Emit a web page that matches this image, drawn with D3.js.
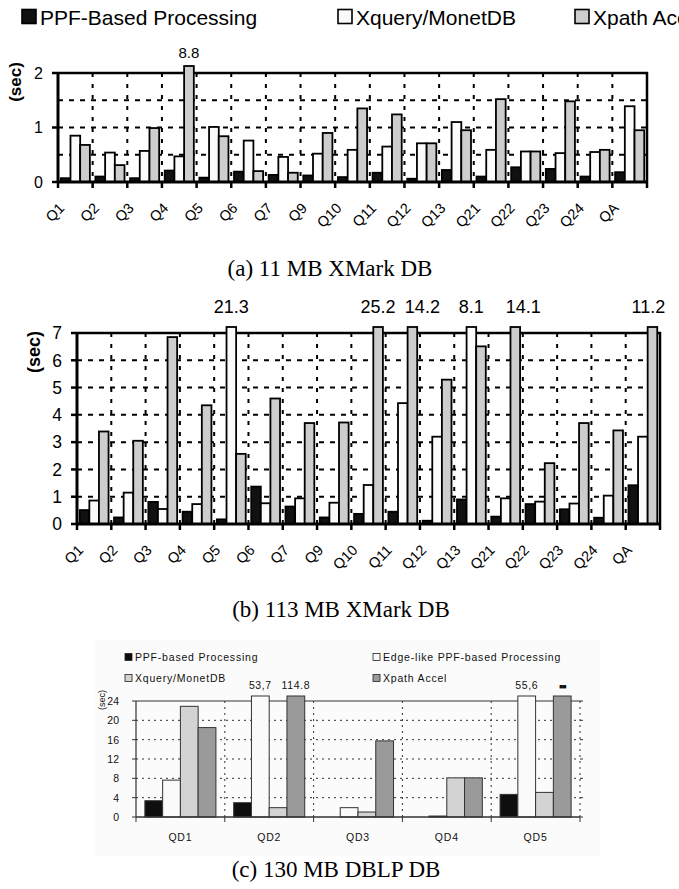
<!DOCTYPE html>
<html><head><meta charset="utf-8">
<script src="https://cdn.jsdelivr.net/npm/d3@7"></script>
<style>body{margin:0;background:#fff}</style>
</head><body>
<svg id="c" width="679" height="889" xmlns="http://www.w3.org/2000/svg"></svg>
<script>
// ---------- DATA ----------
const queriesXM = ["Q1","Q2","Q3","Q4","Q5","Q6","Q7","Q9","Q10","Q11","Q12","Q13","Q21","Q22","Q23","Q24","QA"];
const seriesXM = ["PPF-Based Processing","Xquery/MonetDB","Xpath Accel"];
// (a) 11 MB XMark DB (sec)
const a_ppf   = [0.07,0.10,0.07,0.21,0.08,0.19,0.13,0.12,0.09,0.17,0.06,0.22,0.10,0.27,0.24,0.10,0.18];
const a_monet = [0.85,0.54,0.57,0.47,1.01,0.76,0.46,0.52,0.59,0.65,0.71,1.10,0.59,0.56,0.53,0.55,1.39];
const a_xpath = [0.68,0.31,0.99,8.8,0.84,0.20,0.17,0.90,1.35,1.24,0.71,0.95,1.52,0.56,1.48,0.59,0.95];
const a_yTicks = [0,1,2];
// (b) 113 MB XMark DB (sec)
const b_ppf   = [0.51,0.24,0.81,0.45,0.17,1.37,0.64,0.24,0.37,0.45,0.12,0.90,0.27,0.73,0.54,0.23,1.42];
const b_monet = [0.86,1.15,0.55,0.73,21.3,0.76,0.94,0.78,1.43,4.43,3.20,8.1,0.94,0.82,0.75,1.04,3.20];
const b_xpath = [3.39,3.05,6.85,4.35,2.57,4.60,3.70,3.72,25.2,14.2,5.29,6.51,14.1,2.23,3.70,3.43,11.2];
const b_yTicks = [0,1,2,3,4,5,6,7];
// (c) 130 MB DBLP DB (sec)
const queriesDBLP = ["QD1","QD2","QD3","QD4","QD5"];
const seriesDBLP = ["PPF-based Processing","Edge-like PPF-based Processing","Xquery/MonetDB","Xpath Accel"];
const c_ppf   = [3.37,2.96,0,0,4.68];
const c_edge  = [7.63,53.7,1.93,0.2,55.6];
const c_monet = [22.9,1.93,1.03,8.1,5.09];
const c_xpath = [18.5,114.8,15.75,8.1,30]; // QD5 value label illegible in source
const c_overLabels = ["53,7","114.8","55,6","\u25A0\u25A0"]; // in query order
const c_yTicks = [0,4,8,12,16,20,24];
const captions = ["(a) 11 MB XMark DB","(b) 113 MB XMark DB","(c) 130 MB DBLP DB"];

// ---------- DRAW ----------
const svg = d3.select("#c");
const SANS = "'Liberation Sans', Arial, sans-serif";
const SERIF = "'Liberation Serif', 'Times New Roman', serif";
const fillsXM = ["#111111","#fbfbfb","#cdcdcd"];

// top legend
const legX = [22, 338, 575];
seriesXM.forEach((s,i)=>{
  svg.append("rect").attr("x",legX[i]).attr("y",9.5).attr("width",14).attr("height",14)
    .attr("fill",fillsXM[i]).attr("stroke","#000").attr("stroke-width",1.6);
  svg.append("text").attr("x",legX[i]+18).attr("y",24.5).attr("font-family",SANS)
    .attr("font-size",21).attr("fill","#000").text(s);
});

function xmarkChart(cfg){
  const g = svg.append("g");
  const x = d3.scaleBand().domain(queriesXM).range([cfg.x0,cfg.x1]).padding(0);
  const y = d3.scaleLinear().domain([0,cfg.yMax]).range([cfg.yBot,cfg.yTop]);
  const bw = x.bandwidth();
  const xs = d3.scaleBand().domain([0,1,2]).range([bw*0.08,bw*0.92]);
  // grid
  g.selectAll(".hg").data(d3.range(cfg.gridStep,cfg.yMax-1e-9,cfg.gridStep)).join("line")
    .attr("x1",cfg.x0).attr("x2",cfg.x1).attr("y1",d=>y(d)).attr("y2",d=>y(d))
    .attr("stroke","#000").attr("stroke-width",2).attr("stroke-dasharray","5,6");
  g.selectAll(".vg").data(queriesXM.slice(1)).join("line")
    .attr("x1",d=>x(d)).attr("x2",d=>x(d)).attr("y1",cfg.yTop).attr("y2",cfg.yBot)
    .attr("stroke","#000").attr("stroke-width",2).attr("stroke-dasharray","4,7");
  // frame top & right
  g.append("path").attr("d",`M${cfg.x0},${cfg.yTop}H${cfg.x1}V${cfg.yBot}`)
    .attr("fill","none").attr("stroke","#000").attr("stroke-width",2.5);
  // bars
  const data = [];
  cfg.series.forEach((arr,si)=>arr.forEach((v,qi)=>data.push({q:queriesXM[qi],si,v})));
  g.selectAll(".bar").data(data).join("rect")
    .attr("x",d=>x(d.q)+xs(d.si)).attr("width",xs.bandwidth())
    .attr("y",d=> d.v>cfg.yMax ? cfg.yTop-cfg.over : y(d.v))
    .attr("height",d=> (d.v>cfg.yMax ? cfg.yBot-(cfg.yTop-cfg.over) : cfg.yBot-y(d.v)))
    .attr("fill",d=>fillsXM[d.si]).attr("stroke","#000").attr("stroke-width",1.8);
  // over-range labels
  g.selectAll(".ol").data(data.filter(d=>d.v>cfg.yMax)).join("text")
    .attr("x",d=>x(d.q)+xs(d.si)+xs.bandwidth()/2+(cfg.nudge[d.q]||0)).attr("y",cfg.labelY)
    .attr("text-anchor","middle").attr("font-family",SANS).attr("font-size",cfg.lblFs)
    .text(d=>d3.format(".1f")(d.v));
  // axes lines
  g.append("line").attr("x1",cfg.x0).attr("x2",cfg.x0).attr("y1",cfg.yTop-1).attr("y2",cfg.yBot+1)
    .attr("stroke","#000").attr("stroke-width",3);
  g.append("line").attr("x1",cfg.x0-1).attr("x2",cfg.x1+1).attr("y1",cfg.yBot).attr("y2",cfg.yBot)
    .attr("stroke","#000").attr("stroke-width",3);
  // y ticks
  g.selectAll(".yt").data(cfg.yTicks).join("line")
    .attr("x1",cfg.x0-6).attr("x2",cfg.x0).attr("y1",d=>y(d)).attr("y2",d=>y(d))
    .attr("stroke","#000").attr("stroke-width",2.5);
  g.selectAll(".yl").data(cfg.yTicks).join("text")
    .attr("x",cfg.x0-15).attr("y",d=>y(d)+cfg.tickFs*0.36).attr("text-anchor","end")
    .attr("font-family",SANS).attr("font-size",cfg.tickFs).text(d=>d);
  // x ticks
  g.selectAll(".xt").data(queriesXM.concat(["end"])).join("line")
    .attr("x1",(d,i)=>cfg.x0+i*bw).attr("x2",(d,i)=>cfg.x0+i*bw)
    .attr("y1",cfg.yBot).attr("y2",cfg.yBot+6).attr("stroke","#000").attr("stroke-width",2.5);
  // x labels
  g.selectAll(".xl").data(queriesXM).join("text")
    .attr("transform",d=>`translate(${x(d)+bw/2-10},${cfg.yBot+27}) rotate(-45)`)
    .attr("text-anchor","end").attr("font-family",SANS).attr("font-size",14.5).text(d=>d);
  // y title
  g.append("text").attr("transform",`translate(${cfg.titleX},${cfg.titleY}) rotate(-90)`)
    .attr("text-anchor","middle").attr("font-family",SANS).attr("font-weight","bold")
    .attr("font-size",cfg.titleFs).text("(sec)");
  // caption
  g.append("text").attr("x",cfg.capX).attr("y",cfg.capY).attr("text-anchor","middle")
    .attr("font-family",SERIF).attr("font-size",23).text(cfg.caption);
}

xmarkChart({x0:58,x1:647,yTop:73,yBot:182,yMax:2,gridStep:0.5,yTicks:a_yTicks,tickFs:16,titleFs:17,
  series:[a_ppf,a_monet,a_xpath],over:7,labelY:58,lblFs:15,nudge:{},
  titleX:21,titleY:82,capX:330,capY:276,caption:captions[0]});
xmarkChart({x0:77,x1:660,yTop:333,yBot:524,yMax:7,gridStep:1,yTicks:b_yTicks,tickFs:17.5,titleFs:18,
  series:[b_ppf,b_monet,b_xpath],over:6,labelY:313,lblFs:18,nudge:{Q11:10,Q21:8,QA:-4},
  titleX:40,titleY:352,capX:341,capY:617,caption:captions[1]});

// (c)
(function(){
  const x0=136,x1=580,yTop=701,yBot=817,yMax=24;
  const g = svg.append("g");
  const fills = ["#0e0e0e","#fafafa","#d3d3d3","#9a9a9a"];
  g.append("rect").attr("x",94).attr("y",640).attr("width",506).attr("height",216).attr("fill","#fbfbfb");
  const x = d3.scaleBand().domain(queriesDBLP).range([x0,x1]).padding(0);
  const y = d3.scaleLinear().domain([0,yMax]).range([yBot,yTop]);
  const bw = x.bandwidth();
  const xs = d3.scaleBand().domain([0,1,2,3]).range([bw*0.1,bw*0.9]);
  const FS = 10.5;
  // legend
  const lp = [[125,657],[373,657],[125,678],[373,678]];
  seriesDBLP.forEach((s,i)=>{
    g.append("rect").attr("x",lp[i][0]).attr("y",lp[i][1]-3.5).attr("width",7).attr("height",7)
      .attr("fill",fills[i]).attr("stroke","#222").attr("stroke-width",0.8);
    g.append("text").attr("x",lp[i][0]+10).attr("y",lp[i][1]+4).attr("font-family",SANS)
      .attr("font-size",FS).attr("letter-spacing",0.8).attr("fill","#111").text(s);
  });
  // grid
  g.selectAll(".hg").data(c_yTicks.slice(1,-1)).join("line")
    .attr("x1",x0).attr("x2",x1).attr("y1",d=>y(d)).attr("y2",d=>y(d))
    .attr("stroke","#333").attr("stroke-width",1).attr("stroke-dasharray","2,4");
  g.selectAll(".vg").data(d3.range(1,queriesDBLP.length+1)).join("line")
    .attr("x1",d=>x0+d*bw).attr("x2",d=>x0+d*bw).attr("y1",yTop).attr("y2",yBot)
    .attr("stroke","#333").attr("stroke-width",1).attr("stroke-dasharray","2,4");
  g.append("line").attr("x1",x0).attr("x2",x1).attr("y1",yTop).attr("y2",yTop)
    .attr("stroke","#333").attr("stroke-width",1.2);
  // bars
  const data=[];
  [c_ppf,c_edge,c_monet,c_xpath].forEach((arr,si)=>arr.forEach((v,qi)=>data.push({q:queriesDBLP[qi],qi,si,v})));
  const over = 5;
  g.selectAll(".bar").data(data.filter(d=>d.v>0)).join("rect")
    .attr("x",d=>x(d.q)+xs(d.si)).attr("width",xs.bandwidth())
    .attr("y",d=>d.v>yMax? yTop-over : y(d.v))
    .attr("height",d=>d.v>yMax? yBot-yTop+over : yBot-y(d.v))
    .attr("fill",d=>fills[d.si]).attr("stroke","#333").attr("stroke-width",1);
  const overs = data.filter(d=>d.v>yMax).sort((a,b)=>a.qi-b.qi||a.si-b.si);
  g.selectAll(".ol").data(overs).join("text")
    .attr("x",d=>x(d.q)+xs(d.si)+xs.bandwidth()/2).attr("y",689)
    .attr("text-anchor","middle").attr("font-family",SANS)
    .attr("font-size",(d,i)=>i===3?7:FS).attr("letter-spacing",(d,i)=>i===3?-1:0.6)
    .attr("fill","#111").text((d,i)=>c_overLabels[i]);
  // axes
  g.append("line").attr("x1",x0).attr("x2",x0).attr("y1",yTop).attr("y2",yBot).attr("stroke","#333").attr("stroke-width",1.2);
  g.append("line").attr("x1",x0).attr("x2",x1).attr("y1",yBot).attr("y2",yBot).attr("stroke","#333").attr("stroke-width",1.5);
  g.selectAll(".yt").data(c_yTicks).join("line")
    .attr("x1",x0-4).attr("x2",x0).attr("y1",d=>y(d)).attr("y2",d=>y(d)).attr("stroke","#333");
  g.selectAll(".yt2").data(c_yTicks).join("line")
    .attr("x1",x1).attr("x2",x1+3).attr("y1",d=>y(d)).attr("y2",d=>y(d)).attr("stroke","#333");
  g.selectAll(".yl").data(c_yTicks).join("text")
    .attr("x",x0-17).attr("y",d=>y(d)+4).attr("text-anchor","end")
    .attr("font-family",SANS).attr("font-size",FS).attr("fill","#111").text(d=>d);
  g.selectAll(".xt").data(d3.range(queriesDBLP.length+1)).join("line")
    .attr("x1",d=>x0+d*bw).attr("x2",d=>x0+d*bw).attr("y1",yBot).attr("y2",yBot+5).attr("stroke","#333");
  g.selectAll(".xl").data(queriesDBLP).join("text")
    .attr("x",d=>x(d)+bw/2).attr("y",841).attr("text-anchor","middle")
    .attr("font-family",SANS).attr("font-size",FS).attr("letter-spacing",0.8).attr("fill","#111").text(d=>d);
  g.append("text").attr("transform","translate(105,700) rotate(-90)").attr("text-anchor","middle")
    .attr("font-family",SANS).attr("font-size",9).attr("fill","#111").text("(sec)");
  g.append("text").attr("x",336).attr("y",877).attr("text-anchor","middle")
    .attr("font-family",SERIF).attr("font-size",23).text(captions[2]);
})();
</script>
</body></html>
